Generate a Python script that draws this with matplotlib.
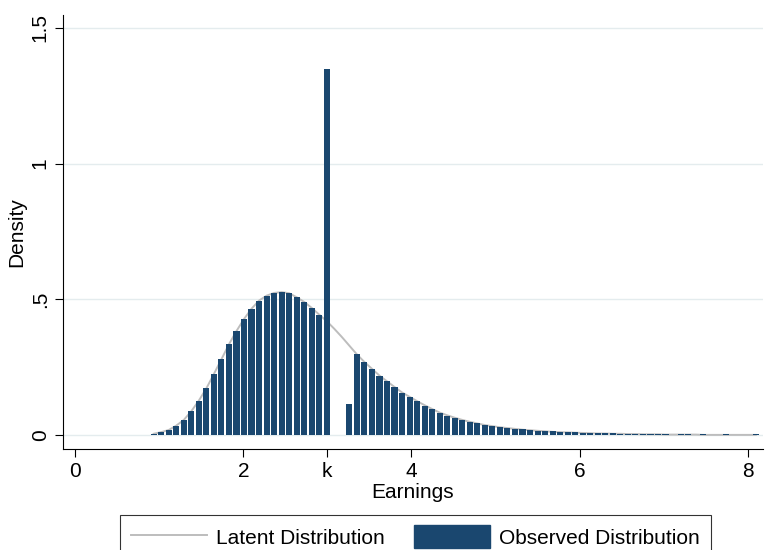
from matplotlib import pyplot as plt
from matplotlib.lines import Line2D
from matplotlib.patches import Patch
import numpy as np

plt.rcParams['font.family'] = 'Liberation Sans'

# histogram bins (earnings)
bin_start = 0.89
bin_width = 0.0895

# observed density per bin (bunching spike at k, hole just above it)
observed = [0.006, 0.012, 0.020, 0.036, 0.057, 0.089, 0.128, 0.173, 0.226, 0.280,
            0.335, 0.384, 0.428, 0.466, 0.496, 0.514, 0.524, 0.527, 0.523, 0.508,
            0.491, 0.469, 0.444, 1.349, 0.0, 0.0, 0.117, 0.298, 0.270, 0.245,
            0.220, 0.199, 0.178, 0.157, 0.142, 0.125, 0.110, 0.096, 0.082, 0.073,
            0.065, 0.056, 0.050, 0.044, 0.037, 0.034, 0.030, 0.027, 0.024, 0.022,
            0.019, 0.016, 0.015, 0.015, 0.012, 0.011, 0.014, 0.010, 0.009, 0.008,
            0.008, 0.008, 0.007, 0.006, 0.006, 0.005, 0.007, 0.006, 0.005, 0.0,
            0.006, 0.006, 0.0, 0.006, 0.0, 0.0, 0.006, 0.0, 0.0, 0.0,
            0.006]

# latent (counterfactual) density at the bin centres
latent = [0.006, 0.012, 0.020, 0.036, 0.057, 0.089, 0.128, 0.173, 0.226, 0.280,
          0.335, 0.384, 0.428, 0.466, 0.496, 0.514, 0.524, 0.527, 0.523, 0.508,
          0.491, 0.469, 0.444, 0.420, 0.392, 0.362, 0.330, 0.298, 0.270, 0.245,
          0.220, 0.199, 0.178, 0.158, 0.142, 0.126, 0.111, 0.097, 0.084, 0.074,
          0.065, 0.057, 0.050, 0.044, 0.038, 0.034, 0.030, 0.027, 0.024, 0.021,
          0.019, 0.017, 0.015, 0.013, 0.012, 0.011, 0.010, 0.009, 0.008, 0.007,
          0.007, 0.006, 0.006, 0.005, 0.005, 0.004, 0.004, 0.004, 0.003, 0.003,
          0.003, 0.003, 0.003, 0.002, 0.002, 0.002, 0.002, 0.002, 0.002, 0.002,
          0.002]

x_ticks = [0, 2, 3, 4, 6, 8]
x_labels = ['0', '2', 'k', '4', '6', '8']
y_ticks = [0, 0.5, 1, 1.5]
y_labels = ['0', '.5', '1', '1.5']

navy = '#1a476f'
grey = '#bdbdbd'

obs = np.array(observed)
lefts = bin_start + bin_width * np.arange(len(obs))
centres = lefts + bin_width / 2

fig = plt.figure(figsize=(7.65, 5.5), dpi=100)
ax = fig.add_axes([0.0824, 0.1836, 0.915, 0.789])

for y in y_ticks:
    ax.axhline(y, color='#e4ecee', linewidth=1.0, zorder=0)

ax.plot(centres, latent, color=grey, linewidth=1.4, zorder=1)
# thin white gap between bars, like the original
keep = obs > 0
ax.bar(centres[keep], obs[keep], width=bin_width - 0.017, align='center',
       color=navy, linewidth=0, zorder=2)

ax.set_xlim(-0.143, 8.18)
ax.set_ylim(-0.05, 1.546)

ax.set_xticks(x_ticks)
ax.set_xticklabels(x_labels)
ax.set_yticks(y_ticks)
ax.set_yticklabels(y_labels, rotation=90, va='center')
ax.tick_params(direction='out', length=5.5, width=0.8, labelsize=15, pad=4)

ax.set_xlabel('Earnings', fontsize=15, labelpad=1)
ax.set_ylabel('Density', fontsize=15, labelpad=3)

for s in ['top', 'right']:
    ax.spines[s].set_visible(False)
for s in ['left', 'bottom']:
    ax.spines[s].set_linewidth(0.8)

handles = [Line2D([], [], color=grey, linewidth=1.4),
           Patch(facecolor=navy, edgecolor=navy)]
leg = fig.legend(handles, ['Latent Distribution', 'Observed Distribution'],
                 loc='upper center', bbox_to_anchor=(415.5 / 765, 1 - 515 / 550),
                 ncol=2, fontsize=15, frameon=True, fancybox=False,
                 handlelength=3.65, handleheight=1.3, handletextpad=0.45,
                 columnspacing=1.4, borderpad=0.5, borderaxespad=0)
leg.get_frame().set_edgecolor('black')
leg.get_frame().set_linewidth(0.8)

fig.savefig('out.png', dpi=100)
